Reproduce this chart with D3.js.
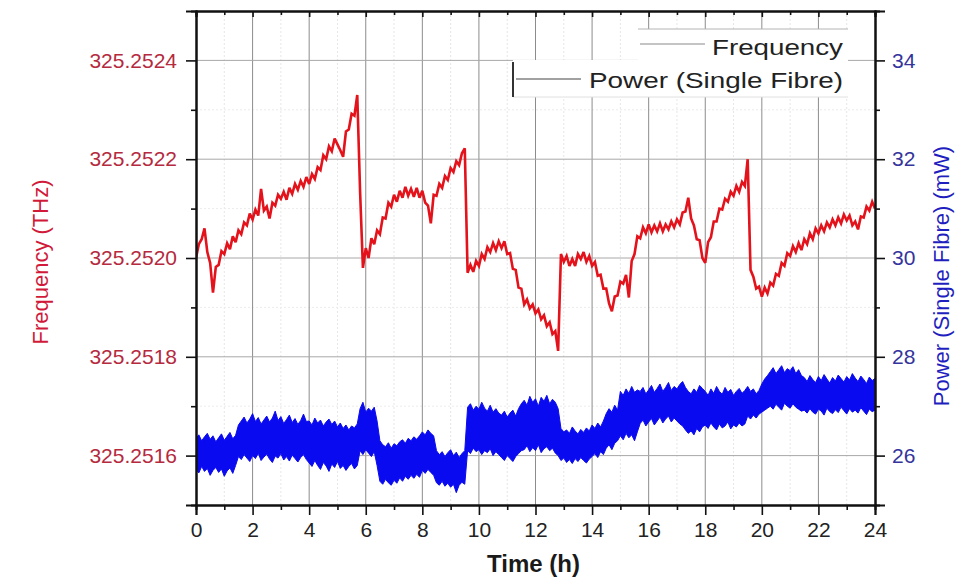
<!DOCTYPE html>
<html>
<head>
<meta charset="utf-8">
<script src="https://cdn.jsdelivr.net/npm/d3@7/dist/d3.min.js"></script>
<style>
  html, body { margin: 0; padding: 0; background: #ffffff; }
  svg { display: block; font-family: "Liberation Sans", Arial, sans-serif; }
</style>
</head>
<body>
<script>
// Laser frequency and single-fibre power logged over 24 hours, sampled every 0.1 h.

const FREQ_REF_THZ = 325.2515;           // frequency values below are offsets from this, in MHz
const timeTicks = [0, 2, 4, 6, 8, 10, 12, 14, 16, 18, 20, 22, 24];
const timeMinorTicks = [1, 3, 5, 7, 9, 11, 13, 15, 17, 19, 21, 23];
const freqTicks = [325.2516, 325.2518, 325.2520, 325.2522, 325.2524];
const freqMinorTicks = [325.2517, 325.2519, 325.2521, 325.2523];
const powerTicks = [26, 28, 30, 32, 34];
const powerMinorTicks = [27, 29, 31, 33];

// frequency offset (MHz above 325.2515 THz), t = 0.0 … 24.0 h
const freqMHz = [
  500, 528, 538, 560, 512, 490, 430, 482, 486, 514,
  508, 530, 518, 544, 532, 556, 548, 572, 566, 590,
  578, 598, 586, 640, 596, 604, 580, 612, 606, 628,
  620, 634, 618, 642, 630, 650, 638, 656, 644, 664,
  650, 670, 660, 684, 678, 708, 700, 726, 716, 742,
  730, 718, 705, 756, 760, 792, 788, 830, 634, 480,
  520, 500, 540, 528, 556, 548, 582, 580, 612, 604,
  628, 614, 636, 622, 644, 626, 640, 624, 642, 622,
  636, 612, 606, 570, 628, 626, 650, 642, 666, 658,
  682, 674, 696, 688, 712, 722, 470, 486, 472, 494,
  484, 508, 498, 522, 512, 530, 516, 534, 520, 534,
  508, 510, 478, 476, 440, 438, 406, 416, 398, 406,
  388, 396, 376, 384, 362, 370, 346, 352, 312, 508,
  492, 504, 484, 498, 484, 508, 498, 512, 492, 504,
  484, 492, 464, 466, 438, 438, 408, 392, 422, 424,
  452, 448, 466, 420, 494, 508, 544, 540, 562, 550,
  568, 552, 566, 554, 570, 554, 568, 558, 574, 562,
  578, 568, 592, 594, 622, 580, 566, 538, 536, 500,
  490, 532, 542, 574, 574, 600, 598, 620, 614, 634,
  626, 646, 634, 654, 646, 700, 476, 462, 438, 442,
  422, 440, 428, 450, 444, 468, 464, 490, 484, 510,
  504, 524, 512, 530, 516, 538, 528, 550, 538, 560,
  550, 566, 554, 572, 562, 578, 566, 582, 570, 588,
  576, 586, 566, 574, 558, 584, 582, 604, 596, 614,
  600
];

// single-fibre power band (mW): upper and lower edge of the noise, t = 0.0 … 24.0 h
const powerHigh = [
  26.35, 26.42, 26.30, 26.38, 26.45, 26.33, 26.40, 26.28, 26.36, 26.44, 26.31, 26.39, 26.47, 26.34, 26.41,
  26.62, 26.70, 26.78, 26.66, 26.74, 26.85, 26.69, 26.77, 26.64, 26.72, 26.80, 26.68, 26.76, 26.90, 26.71,
  26.79, 26.65, 26.73, 26.82, 26.67, 26.75, 26.63, 26.71, 26.84, 26.69,
  26.70, 26.62, 26.76, 26.66, 26.72, 26.60, 26.68, 26.74, 26.63, 26.70, 26.58, 26.66, 26.55, 26.62, 26.52,
  26.60, 26.56, 26.64,
  26.95, 27.08, 26.88, 26.96, 26.90, 26.98, 26.70,
  26.30, 26.22, 26.18, 26.26, 26.15, 26.24, 26.20, 26.28, 26.32, 26.25, 26.35, 26.30, 26.38, 26.33, 26.40,
  26.48, 26.42, 26.52, 26.45, 26.40,
  26.10, 26.02, 26.08, 25.98, 26.06, 26.12, 26.00, 26.07, 25.96, 26.04, 26.10,
  26.98, 27.05, 26.92, 27.00, 26.94, 27.08, 26.96, 26.90, 27.02, 26.88, 26.95, 26.86,
  26.82, 26.90, 26.78, 26.86, 26.92, 26.80, 26.95, 27.05,
  27.12, 27.02, 27.20, 27.08, 27.15, 27.00, 27.18, 27.10, 27.22, 27.05, 27.14, 27.08, 26.95,
  26.55, 26.48, 26.52, 26.45, 26.58, 26.50, 26.44, 26.53, 26.47, 26.56, 26.50,
  26.62, 26.55, 26.66, 26.58, 26.70,
  26.85, 26.95, 26.88, 27.02, 26.92,
  27.30, 27.22, 27.35, 27.26, 27.40, 27.28, 27.33,
  27.30, 27.38, 27.25, 27.33, 27.42, 27.28, 27.36, 27.45, 27.30, 27.38, 27.48, 27.32, 27.40, 27.35, 27.44,
  27.50, 27.38, 27.30, 27.25, 27.35, 27.28, 27.42, 27.36,
  27.30, 27.22, 27.35, 27.26, 27.40, 27.30, 27.24, 27.38, 27.28, 27.34, 27.22, 27.30, 27.36, 27.26, 27.32,
  27.40, 27.30, 27.35, 27.25, 27.32, 27.45, 27.55, 27.62,
  27.70, 27.78, 27.66, 27.74, 27.82, 27.68, 27.76, 27.72, 27.80, 27.66, 27.74, 27.62,
  27.58, 27.50, 27.62, 27.54, 27.48, 27.60, 27.52, 27.64, 27.55, 27.47, 27.58, 27.51, 27.63, 27.56, 27.49,
  27.60, 27.53, 27.66, 27.57, 27.50, 27.61, 27.54, 27.46, 27.59, 27.52, 27.56
];
const powerLow = [
  25.72, 25.65, 25.78, 25.68, 25.74, 25.60, 25.70, 25.76, 25.66, 25.73, 25.58, 25.69, 25.75, 25.64, 25.80,
  25.98, 25.92, 26.02, 25.95, 25.88, 26.00, 25.94, 26.05, 25.90, 25.97, 26.03, 25.93, 25.86, 25.99, 25.95,
  26.04, 25.91, 25.98, 25.89, 26.01, 25.94, 25.87, 25.96, 26.02, 25.92,
  25.85, 25.78, 25.90, 25.80, 25.72, 25.86, 25.79, 25.68, 25.83, 25.76, 25.88, 25.74, 25.80, 25.70, 25.78,
  25.84, 25.73, 25.80,
  26.10, 26.02, 26.12, 26.05, 25.98, 26.08, 25.80,
  25.48, 25.42, 25.52, 25.45, 25.40, 25.50, 25.44, 25.55, 25.48, 25.58, 25.52, 25.60, 25.54, 25.62, 25.56,
  25.70, 25.64, 25.72, 25.66, 25.60,
  25.45, 25.40, 25.48, 25.38, 25.44, 25.36, 25.42, 25.25, 25.40, 25.46, 25.42,
  26.10, 26.04, 26.15, 26.08, 26.12, 26.02, 26.10, 26.06, 26.14, 26.00, 26.08, 26.02,
  25.96, 25.90, 26.00, 25.94, 25.88, 25.98, 26.04, 26.10,
  26.12, 26.20, 26.08, 26.16, 26.10, 26.22, 26.06, 26.14, 26.18, 26.10, 26.15, 26.05, 26.00,
  25.90, 25.95, 25.86, 25.92, 25.84, 25.94, 25.88, 25.96, 25.90, 25.85, 25.93,
  25.98, 26.04, 25.96, 26.08, 26.02,
  26.15, 26.22, 26.12, 26.25, 26.30,
  26.40, 26.32, 26.45, 26.36, 26.42, 26.30, 26.48,
  26.65, 26.72, 26.60, 26.68, 26.75, 26.62, 26.70, 26.78, 26.66, 26.74, 26.80, 26.68, 26.76, 26.70, 26.64,
  26.60, 26.52, 26.45, 26.50, 26.42, 26.55, 26.48, 26.58,
  26.62, 26.55, 26.66, 26.58, 26.52, 26.64, 26.56, 26.60, 26.68, 26.54, 26.62, 26.58, 26.66, 26.60, 26.64,
  26.80, 26.74, 26.82, 26.76, 26.84, 26.88, 26.92, 26.96,
  27.00, 26.94, 27.04, 26.98, 26.92, 27.06, 27.00, 26.96, 27.05, 26.98, 26.94, 26.90,
  26.92, 26.86, 26.95, 26.88, 26.84, 26.94, 26.90, 26.82, 26.96, 26.89, 26.85, 26.93, 26.87, 26.98, 26.91,
  26.84, 26.95, 26.88, 26.92, 26.86, 26.97, 26.90, 26.83, 26.94, 26.89, 26.92
];

const hours = d3.range(freqMHz.length).map(i => i / 10);

const W = 971, H = 579;
const plot = { left: 196, right: 875, top: 11, bottom: 505 };

const svg = d3.select("body").append("svg").attr("width", W).attr("height", H);

const x = d3.scaleLinear().domain([0, 24]).range([plot.left, plot.right]);
const yF = d3.scaleLinear().domain([325.2515, 325.2525]).range([plot.bottom, plot.top]);
const yP = d3.scaleLinear().domain([25, 35]).range([plot.bottom, plot.top]);

// ---- grid ----
const grid = svg.append("g");
grid.selectAll(".vminor").data(timeMinorTicks).join("line")
  .attr("x1", d => x(d)).attr("x2", d => x(d))
  .attr("y1", plot.top).attr("y2", plot.bottom)
  .attr("stroke", "#e6e6e6").attr("stroke-width", 1).attr("stroke-dasharray", "2,2");
grid.selectAll(".hminor").data(freqMinorTicks).join("line")
  .attr("x1", plot.left).attr("x2", plot.right)
  .attr("y1", d => yF(d)).attr("y2", d => yF(d))
  .attr("stroke", "#ececec").attr("stroke-width", 1).attr("stroke-dasharray", "2,2");
grid.selectAll(".vmajor").data(timeTicks.slice(1, -1)).join("line")
  .attr("x1", d => x(d)).attr("x2", d => x(d))
  .attr("y1", plot.top).attr("y2", plot.bottom)
  .attr("stroke", "#8c8c8c").attr("stroke-width", 1);
grid.selectAll(".hmajor").data(freqTicks).join("line")
  .attr("x1", plot.left).attr("x2", plot.right)
  .attr("y1", d => yF(d)).attr("y2", d => yF(d))
  .attr("stroke", "#a8a8a8").attr("stroke-width", 1);

// ---- legend boxes (cover the grid behind them) ----
const legend = svg.append("g");
legend.append("rect").attr("x", 638).attr("y", 29).attr("width", 210).attr("height", 31).attr("fill", "#fff");
legend.append("rect").attr("x", 513).attr("y", 60).attr("width", 335).attr("height", 37).attr("fill", "#fff");
legend.append("line").attr("x1", 638).attr("x2", 848).attr("y1", 29).attr("y2", 29)
  .attr("stroke", "#b4b4b4").attr("stroke-width", 1);
legend.append("line").attr("x1", 513).attr("x2", 848).attr("y1", 97).attr("y2", 97)
  .attr("stroke", "#e0e0e0").attr("stroke-width", 1);
legend.append("line").attr("x1", 640).attr("x2", 705).attr("y1", 44).attr("y2", 44)
  .attr("stroke", "#8a8a8a").attr("stroke-width", 1.2);
legend.append("text").attr("x", 712).attr("y", 55).attr("font-size", 22).attr("fill", "#222")
  .attr("textLength", 131).attr("lengthAdjust", "spacingAndGlyphs").text("Frequency");
legend.append("line").attr("x1", 513).attr("x2", 513).attr("y1", 62).attr("y2", 97)
  .attr("stroke", "#333").attr("stroke-width", 2);
legend.append("line").attr("x1", 516).attr("x2", 581).attr("y1", 79).attr("y2", 79)
  .attr("stroke", "#444").attr("stroke-width", 1.2);
legend.append("text").attr("x", 589).attr("y", 88).attr("font-size", 22).attr("fill", "#222")
  .attr("textLength", 254).attr("lengthAdjust", "spacingAndGlyphs").text("Power (Single Fibre)");

// ---- data ----
svg.append("clipPath").attr("id", "plotclip").append("rect")
  .attr("x", plot.left).attr("y", plot.top)
  .attr("width", plot.right - plot.left).attr("height", plot.bottom - plot.top);
const data = svg.append("g").attr("clip-path", "url(#plotclip)");

const powerArea = d3.area()
  .x((d, i) => x(hours[i]))
  .y0((d, i) => yP(powerLow[i]))
  .y1((d, i) => yP(powerHigh[i]));
data.append("path").datum(powerHigh).attr("d", powerArea)
  .attr("fill", "#0a0af0").attr("stroke", "#0a0af0").attr("stroke-width", 1);

const freqLine = d3.line()
  .x((d, i) => x(hours[i]))
  .y(d => yF(FREQ_REF_THZ + d * 1e-6));
data.append("path").datum(freqMHz).attr("d", freqLine)
  .attr("fill", "none").attr("stroke", "#e3121b").attr("stroke-width", 2.6)
  .attr("stroke-linejoin", "miter").attr("stroke-miterlimit", 3);

// ---- axes ----
function styleAxis(g, color, size) {
  g.select(".domain").attr("stroke", "#111").attr("stroke-width", 2);
  g.selectAll(".tick line").attr("stroke", "#111").attr("stroke-width", 1.6);
  g.selectAll("text").attr("fill", color).attr("font-size", size)
    .attr("font-family", "'Liberation Sans', Arial, sans-serif");
}

const gx = svg.append("g").attr("transform", `translate(0,${plot.bottom})`)
  .call(d3.axisBottom(x).tickValues(timeTicks).tickSize(10).tickPadding(7).tickFormat(d3.format("d")));
styleAxis(gx, "#222", 21);
const gxm = svg.append("g").attr("transform", `translate(0,${plot.bottom})`)
  .call(d3.axisBottom(x).tickValues(timeMinorTicks).tickSize(5).tickFormat(""));
styleAxis(gxm, "#222", 21);

const gt = svg.append("g").attr("transform", `translate(0,${plot.top})`)
  .call(d3.axisBottom(x).tickValues(timeTicks).tickSize(6).tickFormat(""));
styleAxis(gt, "#222", 21);
const gtm = svg.append("g").attr("transform", `translate(0,${plot.top})`)
  .call(d3.axisBottom(x).tickValues(timeMinorTicks).tickSize(4).tickFormat(""));
styleAxis(gtm, "#222", 21);

const gl = svg.append("g").attr("transform", `translate(${plot.left},0)`)
  .call(d3.axisLeft(yF).tickValues(freqTicks).tickSize(10).tickPadding(9).tickFormat(d3.format(".4f")));
styleAxis(gl, "#b52a3e", 21);
const glm = svg.append("g").attr("transform", `translate(${plot.left},0)`)
  .call(d3.axisLeft(yF).tickValues(freqMinorTicks).tickSize(5).tickFormat(""));
styleAxis(glm, "#b52a3e", 21);

const gr = svg.append("g").attr("transform", `translate(${plot.right},0)`)
  .call(d3.axisRight(yP).tickValues(powerTicks).tickSize(10).tickPadding(7).tickFormat(d3.format("d")));
styleAxis(gr, "#34349c", 21);
const grm = svg.append("g").attr("transform", `translate(${plot.right},0)`)
  .call(d3.axisRight(yP).tickValues(powerMinorTicks).tickSize(5).tickFormat(""));
styleAxis(grm, "#34349c", 21);

// ---- axis titles ----
svg.append("text").attr("x", (plot.left + plot.right) / 2 - 2).attr("y", 572)
  .attr("text-anchor", "middle").attr("font-size", 24).attr("font-weight", "bold")
  .attr("fill", "#1a1a1a").text("Time (h)");

svg.append("text").attr("transform", "translate(48,262) rotate(-90)")
  .attr("text-anchor", "middle").attr("font-size", 22)
  .attr("fill", "#d11a3a").text("Frequency (THz)");

svg.append("text").attr("transform", "translate(949,276) rotate(-90)")
  .attr("text-anchor", "middle").attr("font-size", 22)
  .attr("fill", "#1f1fc0").text("Power (Single Fibre) (mW)");
</script>
</body>
</html>
